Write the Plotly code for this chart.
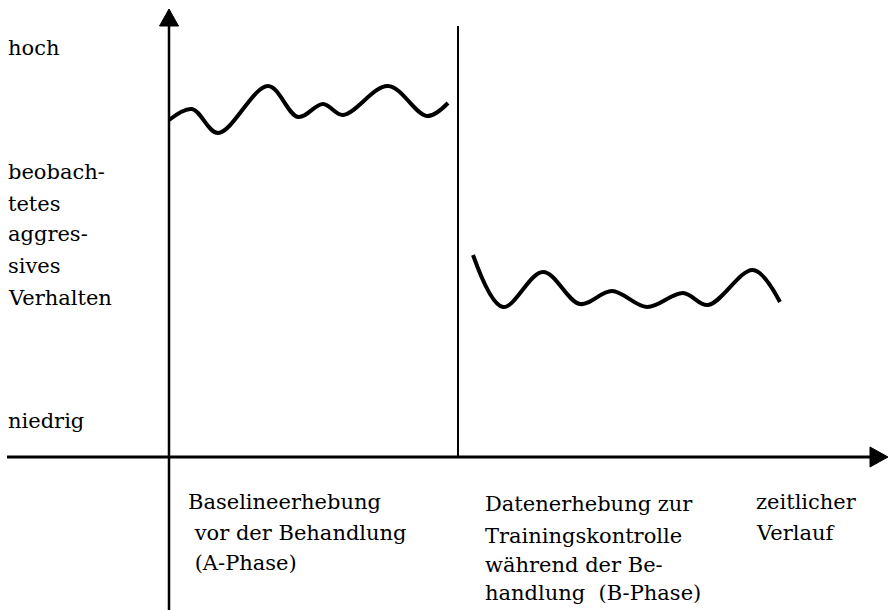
import plotly.graph_objects as go

# ---- data (time units / behaviour level units, origin at the axes' crossing) ----
# Phase A: baseline, before treatment
time_a = [0, 23, 49, 99, 129, 154, 174, 219, 258, 279]
level_a = [337, 348, 324, 371, 340, 353, 342, 371, 341, 354]
# Phase B: during treatment
time_b = [304, 334, 374, 411, 443, 478, 514, 539, 584, 611]
level_b = [202, 150, 185, 153, 166, 150, 164, 152, 187, 155]

phase_boundary = 289

# y-axis side labels and their baseline levels
y_labels = ["hoch", "beobach-", "tetes", "aggres-", "sives", "Verhalten", "niedrig"]
y_label_levels = [402, 278, 246, 216, 184, 152, 29]

# x-axis labels
a_lines = ["Baselineerhebung", "\u00a0vor der Behandlung", "\u00a0(A-Phase)"]
a_levels = [-52, -83, -113]
b_lines = ["Datenerhebung zur", "Trainingskontrolle", "während der Be-", "handlung\u00a0\u00a0(B-Phase)"]
b_levels = [-54, -86, -115, -143]
t_lines = ["zeitlicher", "Verlauf"]
t_levels = [-52, -83]

X_RANGE = [-169, 724]
Y_RANGE = [-153, 457]
FONT = "DejaVu Serif"
FS = 21
MID = (0.928 - 0.236) / 2 * FS  # baseline -> text box centre

fig = go.Figure()
fig.add_trace(go.Scatter(x=time_a, y=level_a, mode="lines",
                         line=dict(color="black", width=4, shape="spline"),
                         hoverinfo="skip", showlegend=False))
fig.add_trace(go.Scatter(x=time_b, y=level_b, mode="lines",
                         line=dict(color="black", width=4, shape="spline"),
                         hoverinfo="skip", showlegend=False))

# axes
fig.add_shape(type="line", x0=-162, x1=702, y0=0, y1=0, line=dict(color="black", width=3))
fig.add_shape(type="line", x0=0, x1=0, y0=Y_RANGE[0], y1=432, line=dict(color="black", width=2.5))
fig.add_shape(type="line", x0=phase_boundary, x1=phase_boundary, y0=0, y1=431,
              line=dict(color="black", width=2))
fig.add_shape(type="path", path="M -9.5 431 L 9.5 431 L 0 448 Z",
              fillcolor="black", line=dict(color="black", width=1))
fig.add_shape(type="path", path="M 701 -10 L 701 10 L 719 0 Z",
              fillcolor="black", line=dict(color="black", width=1))


def label(text, t, base):
    fig.add_annotation(x=t, y=base + MID, xref="x", yref="y", text=text,
                       showarrow=False, xanchor="left", yanchor="middle", borderpad=0,
                       font=dict(family=FONT, size=FS, color="black"))


for txt, lv in zip(y_labels, y_label_levels):
    label(txt, -162, lv)
for txt, lv in zip(a_lines, a_levels):
    label(txt, 18, lv)
for txt, lv in zip(b_lines, b_levels):
    label(txt, 315, lv)
for txt, lv in zip(t_lines, t_levels):
    label(txt, 586, lv)

fig.update_layout(
    width=893, height=610, autosize=False,
    margin=dict(l=0, r=0, t=0, b=0),
    paper_bgcolor="white", plot_bgcolor="white",
    xaxis=dict(range=X_RANGE, visible=False, fixedrange=True),
    yaxis=dict(range=Y_RANGE, visible=False, fixedrange=True),
    showlegend=False,
)
fig.write_html("out.html", config={"displayModeBar": False},
               post_script="document.body.style.margin='0px';document.body.style.overflow='hidden';")
